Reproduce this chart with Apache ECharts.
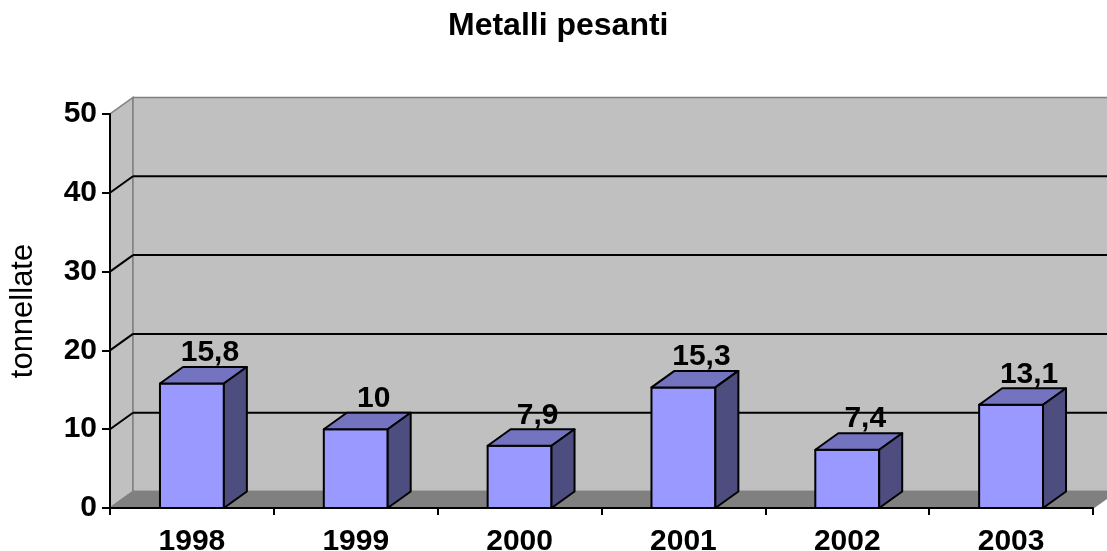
<!DOCTYPE html>
<html>
<head>
<meta charset="utf-8">
<script src="https://cdn.jsdelivr.net/npm/echarts@6/dist/echarts.min.js"></script>
<style>
  html, body { margin: 0; padding: 0; background: #fff; }
  #chart { width: 1107px; height: 551px; }
</style>
</head>
<body>
<div id="chart"></div>
<script>
// data
const years = ['1998', '1999', '2000', '2001', '2002', '2003'];
const values = [15.8, 10, 7.9, 15.3, 7.4, 13.1];
const yTicks = [0, 10, 20, 30, 40, 50];

const FONT = '"Liberation Sans", Arial, sans-serif';
// depth of the 3d box (pixels)
const DX = 23, DY = -16.5;

window.onload = function(){
	const chart = echarts.init(document.getElementById('chart'));
	const yMax = yTicks[yTicks.length - 1];

	/* walls, floor and gridlines */
	function renderWalls(params, api){
		const band = api.size([1, 0])[0];
		const x0 = api.coord([0, 0])[0] - band / 2;
		const x1 = api.coord([years.length - 1, 0])[0] + band / 2;
		const yb = api.coord([0, 0])[1];
		const yt = api.coord([0, yMax])[1];
		const wallStyle = { fill: '#c0c0c0', stroke: '#808080', lineWidth: 1.5 };
		const children = [
			{ type: 'polygon', shape: { points: [[x0, yb], [x0, yt], [x0 + DX, yt + DY], [x0 + DX, yb + DY]] }, style: wallStyle },
			{ type: 'rect', shape: { x: x0 + DX, y: yt + DY, width: x1 - x0, height: yb - yt }, style: wallStyle },
			{ type: 'polygon', shape: { points: [[x0, yb], [x1, yb], [x1 + DX, yb + DY], [x0 + DX, yb + DY]] },
				style: { fill: '#808080', stroke: '#808080', lineWidth: 1.5 } }
		];
		yTicks.forEach(function(t){
			if(t <= 0 || t >= yMax) return;
			const y = api.coord([0, t])[1];
			children.push({ type: 'line', shape: { x1: x0 + DX, y1: y + DY, x2: x1 + DX, y2: y + DY },
				style: { stroke: '#000', lineWidth: 2 } });
			children.push({ type: 'line', shape: { x1: x0, y1: y, x2: x0 + DX, y2: y + DY },
				style: { stroke: '#000', lineWidth: 2 } });
		});
		return { type: 'group', children: children };
	}

	/* 3d bars */
	function renderBar(params, api){
		const v = api.value(1);
		const top = api.coord([api.value(0), v]);
		const base = api.coord([api.value(0), 0]);
		const w = api.size([1, 0])[0] * 0.39;
		const l = top[0] - w / 2, r = top[0] + w / 2;
		const t = top[1], b = base[1];
		const edge = { stroke: '#000', lineWidth: 2, lineJoin: 'round' };
		return {
			type: 'group',
			children: [
				{ type: 'rect', shape: { x: l, y: t, width: w, height: b - t }, style: Object.assign({ fill: '#9999ff' }, edge) },
				{ type: 'polygon', shape: { points: [[l, t], [r, t], [r + DX, t + DY], [l + DX, t + DY]] }, style: Object.assign({ fill: '#7373bf' }, edge) },
				{ type: 'polygon', shape: { points: [[r, t], [r + DX, t + DY], [r + DX, b + DY], [r, b]] }, style: Object.assign({ fill: '#4d4d80' }, edge) },
				{ type: 'text', style: {
					text: String(v).replace('.', ','),
					x: top[0] + 18, y: t + DY - 14,
					align: 'center', verticalAlign: 'middle',
					font: 'bold 30px ' + FONT, fill: '#000'
				} }
			]
		};
	}

	const option = {
		animation: false,
		backgroundColor: '#fff',
		title: {
			text: 'Metalli pesanti',
			left: 443,
			top: 5,
			textStyle: { fontSize: 32, fontWeight: 'bold', color: '#000', fontFamily: FONT }
		},
		grid: { left: 110, right: 14, top: 114, bottom: 43, outerBoundsMode: 'none', containLabel: false },
		xAxis: {
			type: 'category',
			data: years,
			boundaryGap: true,
			axisLine: { lineStyle: { color: '#000', width: 2 } },
			axisTick: { show: true, length: 7, lineStyle: { color: '#000', width: 2 } },
			axisLabel: { fontSize: 30, fontWeight: 'bold', color: '#000', fontFamily: FONT, margin: 19 },
			splitLine: { show: false }
		},
		yAxis: {
			type: 'value',
			min: 0, max: 50, interval: 10,
			name: 'tonnellate',
			nameLocation: 'middle',
			nameGap: 71,
			nameTextStyle: { fontSize: 31, color: '#000', fontFamily: FONT },
			axisLine: { show: true, lineStyle: { color: '#000', width: 2 } },
			axisTick: { show: true, length: 8, lineStyle: { color: '#000', width: 2 } },
			axisLabel: { fontSize: 30, fontWeight: 'bold', color: '#000', fontFamily: FONT, margin: 13 },
			splitLine: { show: false }
		},
		series: [
			{
				type: 'custom',
				z: -1,
				silent: true,
				clip: false,
				renderItem: renderWalls,
				data: [[0, 0]]
			},
			{
				type: 'custom',
				z: 3,
				clip: false,
				renderItem: renderBar,
				data: values.map(function(v, i){ return [i, v]; })
			}
		]
	};
	chart.setOption(option);
};
</script>
</body>
</html>
